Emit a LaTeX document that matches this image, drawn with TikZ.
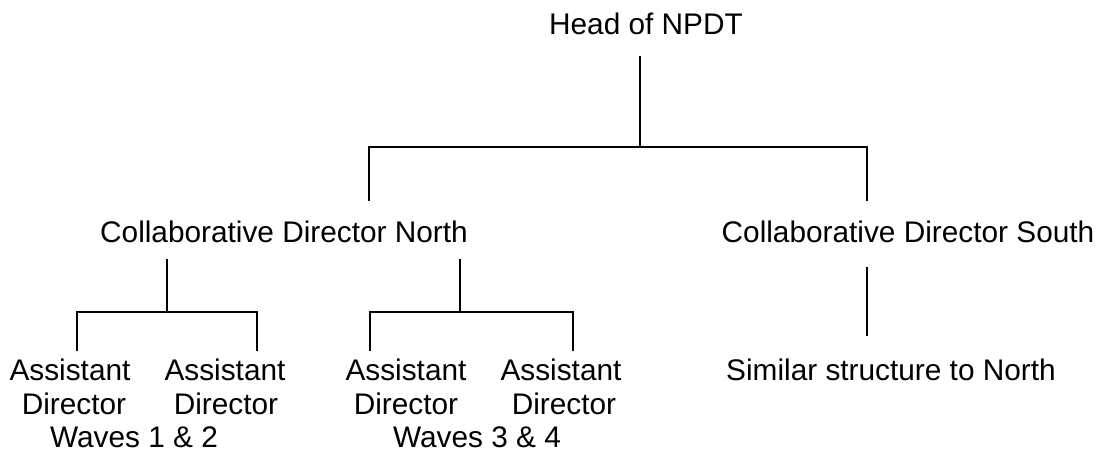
\documentclass[tikz,border=0pt]{standalone}
\usepackage{fontspec}
\setmainfont{Liberation Sans}
\begin{document}
\begin{tikzpicture}[x=1pt,y=-1pt,
  lbl/.style={anchor=base,inner sep=0pt,font=\fontsize{29.8}{34}\selectfont},
  wire/.style={line width=1.5pt,line cap=rect}]
\useasboundingbox (0,0) rectangle (1096,451);

% labels
\node[lbl] (head)  at (646,34)  {Head of NPDT};
\node[lbl] (north) at (284,242) {Collaborative Director North};
\node[lbl] (south) at (908,242) {Collaborative Director South};
\node[lbl] (sim)   at (891,380) {Similar structure to North};

\node[lbl] (a1) at (70,380)  {Assistant};
\node[lbl] (d1) at (74,414)  {Director};
\node[lbl] (a2) at (225,380) {Assistant};
\node[lbl] (d2) at (226,414) {Director};
\node[lbl] (a3) at (406,380) {Assistant};
\node[lbl] (d3) at (406,414) {Director};
\node[lbl] (a4) at (561,380) {Assistant};
\node[lbl] (d4) at (564,414) {Director};
\node[lbl] (w12) at (134,447) {Waves 1 \& 2};
\node[lbl] (w34) at (477,447) {Waves 3 \& 4};

% connector end points
\coordinate (hb) at (640,57);
\coordinate (hj) at (640,147);
\coordinate (nl) at (369,147);
\coordinate (sr) at (867,147);
\coordinate (nt) at (369,200);
\coordinate (st) at (867,200);

\coordinate (g1t) at (167,260);
\coordinate (g1j) at (167,312);
\coordinate (g1l) at (77,312);
\coordinate (g1r) at (257,312);
\coordinate (g1lb) at (77,350);
\coordinate (g1rb) at (257,350);

\coordinate (g2t) at (460,260);
\coordinate (g2j) at (460,312);
\coordinate (g2l) at (370,312);
\coordinate (g2r) at (573,312);
\coordinate (g2lb) at (370,350);
\coordinate (g2rb) at (573,350);

\coordinate (sb1) at (867,268);
\coordinate (sb2) at (867,335);

% head to collaborative directors
\draw[wire] (hb) -- (hj);
\draw[wire] (nt) -- (nl) -- (sr) -- (st);

% north, waves 1 & 2
\draw[wire] (g1t) -- (g1j);
\draw[wire] (g1lb) -- (g1l) -- (g1r) -- (g1rb);

% north, waves 3 & 4
\draw[wire] (g2t) -- (g2j);
\draw[wire] (g2lb) -- (g2l) -- (g2r) -- (g2rb);

% south
\draw[wire] (sb1) -- (sb2);
\end{tikzpicture}
\end{document}
